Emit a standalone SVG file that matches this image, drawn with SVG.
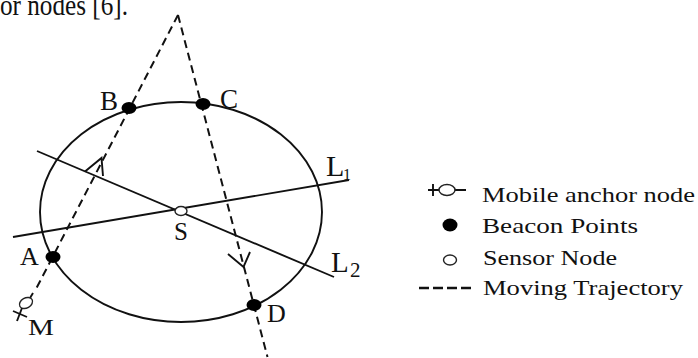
<svg xmlns="http://www.w3.org/2000/svg" width="698" height="358" viewBox="0 0 698 358">
<style>
.t{font-family:"Liberation Serif","Times New Roman",serif;fill:#111}
.ln{stroke:#111;stroke-width:1.9;fill:none}
.dash{stroke:#111;stroke-width:2;fill:none;stroke-dasharray:8 5}
.dot{fill:#000}
.ring{fill:#fff;stroke:#222;stroke-width:1.4}
</style>
<rect width="698" height="358" fill="#fff"/>
<text class="t" x="0" y="15" font-size="30" textLength="128" lengthAdjust="spacingAndGlyphs">or nodes [6].</text>
<g id="circle"><ellipse class="ln" cx="181" cy="212" rx="141" ry="110"/></g>
<g id="connectors">
<line class="ln" x1="13" y1="237" x2="349" y2="180"/>
<line class="ln" x1="37" y1="151" x2="334" y2="277"/>
<path class="dash" d="M178,15 L35.5,290"/>
<path class="dash" d="M178,15 L267.5,357"/>
<polyline class="ln" stroke-width="2.2" points="85,171.5 101.5,158 103,176"/>
<polyline class="ln" stroke-width="2.2" points="228,254 243.5,267 250,252"/>
</g>
<g id="S"><ellipse class="ring" cx="181" cy="211" rx="6" ry="4.5"/><text class="t" x="174" y="240" font-size="25">S</text></g>
<g id="B"><ellipse class="dot" cx="129" cy="108" rx="7.5" ry="6"/><text class="t" x="100" y="110" font-size="27">B</text></g>
<g id="C"><ellipse class="dot" cx="203" cy="104" rx="7.5" ry="6"/><text class="t" x="220" y="108" font-size="27">C</text></g>
<g id="A"><ellipse class="dot" cx="53" cy="257" rx="7.5" ry="6"/><text class="t" x="20" y="265" font-size="26">A</text></g>
<g id="D"><ellipse class="dot" cx="254" cy="305" rx="7.5" ry="6"/><text class="t" x="267" y="322" font-size="26">D</text></g>
<g id="M">
<line class="ln" x1="33" y1="293" x2="30" y2="298"/>
<ellipse class="ring" cx="26" cy="303" rx="7" ry="5" transform="rotate(-30 26 303)" stroke-width="1.8"/>
<line class="ln" x1="22" y1="308" x2="17" y2="321"/>
<line class="ln" x1="13" y1="311" x2="27" y2="317"/>
<text class="t" x="28" y="335" font-size="24" textLength="26" lengthAdjust="spacingAndGlyphs">M</text>
</g>
<g id="L1"><text class="t" x="326" y="176" font-size="30">L</text><text class="t" x="343" y="180" font-size="16">1</text></g>
<g id="L2"><text class="t" x="331" y="272" font-size="29">L</text><text class="t" x="350" y="277" font-size="21">2</text></g>
<g id="legend">
<line class="ln" x1="428" y1="190" x2="466" y2="190"/>
<line class="ln" stroke-width="2.2" x1="433" y1="184" x2="433" y2="196"/>
<ellipse class="ring" cx="447" cy="190" rx="8" ry="5.5" stroke-width="1.8"/>
<text class="t" x="482" y="202" font-size="21" textLength="213" lengthAdjust="spacingAndGlyphs">Mobile anchor node</text>
<ellipse class="dot" cx="450" cy="225" rx="7.5" ry="6.5"/>
<text class="t" x="482" y="233" font-size="21" textLength="156" lengthAdjust="spacingAndGlyphs">Beacon Points</text>
<ellipse class="ring" cx="450" cy="260" rx="6.5" ry="5"/>
<text class="t" x="483" y="265" font-size="21" textLength="134" lengthAdjust="spacingAndGlyphs">Sensor Node</text>
<line x1="419" y1="288" x2="471" y2="288" stroke="#111" stroke-width="2.4" stroke-dasharray="10 4"/>
<text class="t" x="483" y="295" font-size="21" textLength="200" lengthAdjust="spacingAndGlyphs">Moving Trajectory</text>
</g>
</svg>
